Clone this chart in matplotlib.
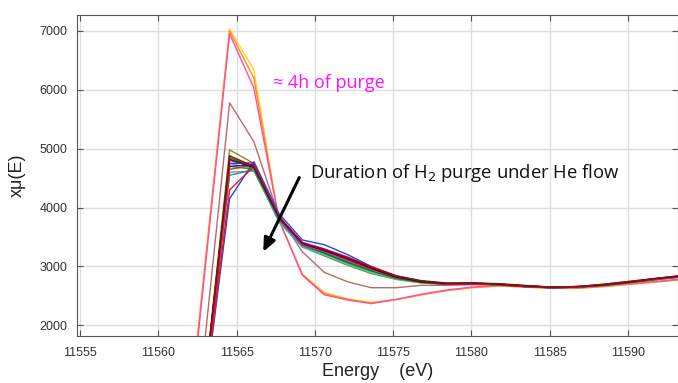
import matplotlib
matplotlib.use("Agg")
import matplotlib.pyplot as plt

energy = [11561.0, 11564.55, 11566.1, 11567.7, 11569.2, 11570.6, 11572.1, 11573.6, 11575.2, 11576.8,
          11578.4, 11580.0, 11581.7, 11583.4, 11585.1, 11586.8, 11588.5, 11590.2, 11591.9, 11593.5]

s_blue = [-3300, 4150, 4780, 3900, 3450, 3370, 3200, 3000, 2840, 2750, 2700, 2700, 2690, 2660, 2640, 2650, 2690, 2740, 2790, 2830]
s_red = [-3400, 4300, 4700, 3850, 3400, 3280, 3120, 2960, 2820, 2740, 2700, 2710, 2690, 2660, 2640, 2650, 2690, 2730, 2790, 2840]
s_green = [-3700, 4700, 4650, 3780, 3350, 3220, 3060, 2920, 2800, 2730, 2700, 2710, 2690, 2660, 2640, 2650, 2680, 2730, 2780, 2830]
s_cyan = [-3750, 4750, 4660, 3750, 3330, 3200, 3040, 2900, 2790, 2720, 2700, 2710, 2690, 2660, 2640, 2650, 2680, 2730, 2780, 2830]
s_magenta = [-3800, 4800, 4700, 3800, 3360, 3250, 3100, 2950, 2810, 2740, 2710, 2720, 2700, 2670, 2650, 2650, 2690, 2740, 2790, 2840]
s_purple = [-3600, 4750, 4760, 3820, 3380, 3280, 3150, 2980, 2830, 2750, 2710, 2710, 2700, 2670, 2640, 2650, 2690, 2740, 2800, 2840]
s_black = [-3750, 4820, 4680, 3830, 3390, 3270, 3130, 2970, 2820, 2740, 2710, 2720, 2700, 2670, 2650, 2660, 2690, 2740, 2800, 2840]
s_darkred = [-3800, 4880, 4700, 3850, 3400, 3290, 3150, 2990, 2840, 2760, 2720, 2720, 2710, 2680, 2650, 2660, 2700, 2750, 2800, 2850]
s_olive = [-3900, 4980, 4750, 3800, 3330, 3180, 3020, 2880, 2780, 2720, 2700, 2720, 2700, 2670, 2650, 2650, 2680, 2730, 2780, 2830]
s_grey = [-3700, 4600, 4620, 3780, 3360, 3240, 3080, 2930, 2800, 2730, 2700, 2710, 2690, 2660, 2640, 2650, 2680, 2730, 2780, 2830]
s_teal = [-3650, 4550, 4640, 3790, 3370, 3260, 3110, 2950, 2810, 2740, 2700, 2710, 2690, 2660, 2640, 2650, 2690, 2730, 2790, 2840]
s_crimson = [-3600, 4650, 4720, 3840, 3410, 3300, 3160, 3000, 2840, 2750, 2710, 2710, 2700, 2670, 2650, 2660, 2700, 2750, 2800, 2850]
s_dkgreen = [-3800, 4850, 4690, 3810, 3370, 3230, 3070, 2930, 2800, 2730, 2700, 2710, 2700, 2660, 2640, 2650, 2680, 2730, 2790, 2830]
s_navy = [-3700, 4700, 4730, 3830, 3390, 3290, 3140, 2980, 2830, 2750, 2710, 2710, 2700, 2670, 2650, 2650, 2690, 2740, 2790, 2840]
s_brown = [-3290, 5780, 5120, 3850, 3250, 2900, 2740, 2640, 2640, 2680, 2680, 2690, 2690, 2670, 2650, 2660, 2690, 2730, 2780, 2820]
s_pink = [-2100, 6950, 6030, 3800, 2850, 2520, 2430, 2370, 2440, 2530, 2600, 2650, 2680, 2660, 2640, 2640, 2670, 2710, 2750, 2790]
s_orange = [-2000, 7000, 6200, 3790, 2860, 2540, 2440, 2380, 2440, 2520, 2590, 2640, 2670, 2650, 2630, 2630, 2660, 2700, 2740, 2780]
s_yellow = [-1990, 7030, 6340, 3780, 2870, 2560, 2450, 2390, 2440, 2520, 2590, 2640, 2670, 2650, 2630, 2630, 2660, 2700, 2740, 2780]

series = [s_yellow, s_orange, s_pink, s_brown, s_olive, s_grey, s_teal, s_cyan, s_green, s_dkgreen,
          s_blue, s_navy, s_purple, s_magenta, s_crimson, s_red, s_black, s_darkred]
colors = ["#ffd21f", "#ff8c1a", "#ff4fa3", "#b86b6b", "#8a8a2a", "#909090", "#1f9f8f", "#20d0d0", "#20b020", "#1a6e1a",
          "#2040ff", "#202080", "#7a1fa0", "#d020d0", "#e0204a", "#ff1010", "#202020", "#8b1010"]

xticks = [11555, 11560, 11565, 11570, 11575, 11580, 11585, 11590]
yticks = [2000, 3000, 4000, 5000, 6000, 7000]

fig = plt.figure(figsize=(6.78, 3.83), dpi=100)
ax = fig.add_axes([77 / 678, (383 - 336) / 383, 1 - 77 / 678, (336 - 15) / 383])

for s, c in zip(series, colors):
    ax.plot(energy, s, color=c, lw=1.0)

ax.set_xlim(11554.8, 11593.2)
ax.set_ylim(1820, 7270)
ax.set_xticks(xticks)
ax.set_yticks(yticks)
ax.grid(True, color="#dddddd", lw=1.0)
ax.set_axisbelow(True)
ax.tick_params(direction="in", top=True, right=True, length=4, color="#555555",
               labelsize=9, labelcolor="#333333")
ax.tick_params(axis="x", pad=8)
ax.tick_params(axis="y", pad=7)
for sp in ax.spines.values():
    sp.set_color("#555555")
for lab in ax.get_xticklabels() + ax.get_yticklabels():
    lab.set_family("Liberation Sans")

ax.set_xlabel("Energy    (eV)", fontsize=13, family="Liberation Sans", color="#222222", labelpad=3)
ax.set_ylabel("xμ(E)", fontsize=13, family="Liberation Sans", color="#222222", labelpad=10)

ax.text(11567.3, 6120, "≈ 4h of purge", color="#ff10ff", fontsize=13, family="Open Sans", va="center")
ax.text(11569.7, 4590, "Duration of H$_2$ purge under He flow", color="#111111", fontsize=13.3,
        family="Open Sans", va="center")
ax.annotate("", xy=(11566.7, 3250), xytext=(11569.0, 4510),
            arrowprops=dict(arrowstyle="-|>,head_width=0.35,head_length=0.8", color="black", lw=2.2,
                            shrinkA=0, shrinkB=0))

fig.savefig("out.png", dpi=100)
